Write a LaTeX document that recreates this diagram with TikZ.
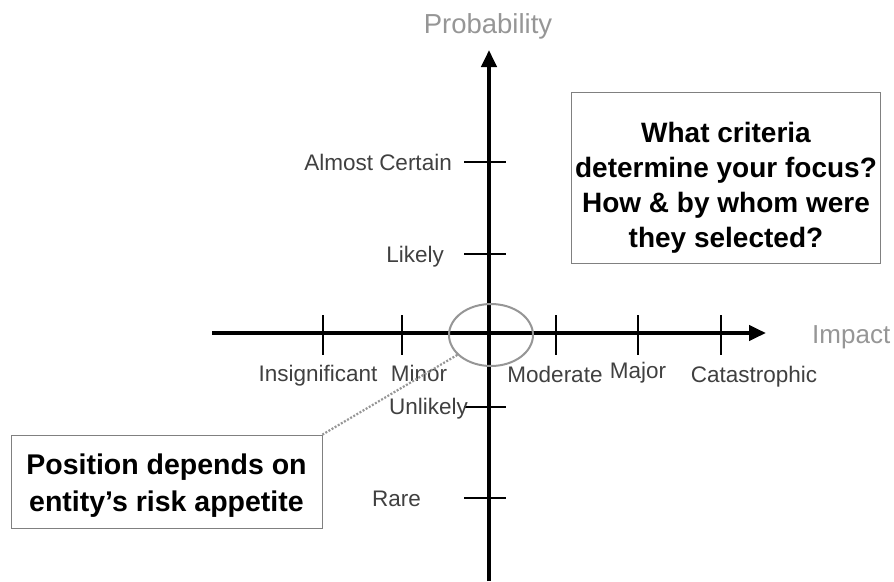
\documentclass[tikz,border=0pt]{standalone}
\usepackage{fontspec}
\setmainfont{Liberation Sans}
\usepackage{tikz}
\usetikzlibrary{arrows.meta,positioning,shapes.geometric}
\definecolor{axisgray}{RGB}{150,150,150}
\definecolor{labelgray}{RGB}{64,64,64}
\definecolor{framegray}{RGB}{128,128,128}

\begin{document}
\begin{tikzpicture}[>={Triangle[length=17pt,width=15pt]}, x=1pt, y=-1pt,
    lbl/.style={text=labelgray, font=\fontsize{22.5}{26}\selectfont, inner sep=0pt},
    axislbl/.style={text=axisgray, font=\fontsize{26}{30}\selectfont, inner sep=0pt},
    note/.style={draw=framegray, line width=0.8pt, align=center, font=\bfseries\fontsize{28}{35}\selectfont}]
    \useasboundingbox (0,0) rectangle (894,581);

    \coordinate (ybot) at (489,581);
    \coordinate (ytop) at (489,50);
    \coordinate (xleft) at (212,333);
    \coordinate (xright) at (766,333);

    \foreach \xx in {323,402,556,638,721}
        \draw[line width=1.3pt] (\xx,315) -- (\xx,355);
    \foreach \yy in {162,254,407,498}
        \draw[line width=1.3pt] (464,\yy) -- (506,\yy);

    \draw[line width=4pt,->] (ybot) -- (ytop);
    \draw[line width=4pt,->] (xleft) -- (xright);

    \node[axislbl, font=\fontsize{27.5}{30}\selectfont, anchor=base] (prob) at (488,33) {Probability};
    \node[axislbl, anchor=base west] (impact) at (812,343) {Impact};

    \node[lbl, anchor=base] (insig) at (318,381) {Insignificant};
    \node[lbl, anchor=base] (minor) at (419,381) {Minor};
    \node[lbl, anchor=base] (moderate) at (555,382) {Moderate};
    \node[lbl, anchor=base] (major) at (638,378) {Major};
    \node[lbl, anchor=base] (catastrophic) at (754,382) {Catastrophic};
    \node[lbl, anchor=base east] (certain) at (452,170) {Almost Certain};
    \node[lbl, anchor=base east] (likely) at (444,262) {Likely};
    \node[lbl, anchor=base east] (unlikely) at (468,414) {Unlikely};
    \node[lbl, anchor=base east] (rare) at (421,506) {Rare};

    \node[ellipse, draw=axisgray, line width=2pt, minimum width=84pt, minimum height=62pt, inner sep=0pt] (focus) at (491,335) {};

    \node[note, minimum width=308pt, minimum height=171pt] (criteria) at (726,177.5)
        {\rule{0pt}{40pt}What criteria\\determine your focus?\\How \& by whom were\\they selected?};
    \node[note, font=\bfseries\fontsize{28.5}{37}\selectfont, minimum width=311pt, minimum height=93pt] (appetite) at (166.5,481.5)
        {\rule{0pt}{29pt}Position depends on\\entity’s risk appetite};

    \draw[axisgray, line width=2.2pt, dash pattern=on 2pt off 1.6pt] (focus) -- (appetite.north east);
\end{tikzpicture}
\end{document}
